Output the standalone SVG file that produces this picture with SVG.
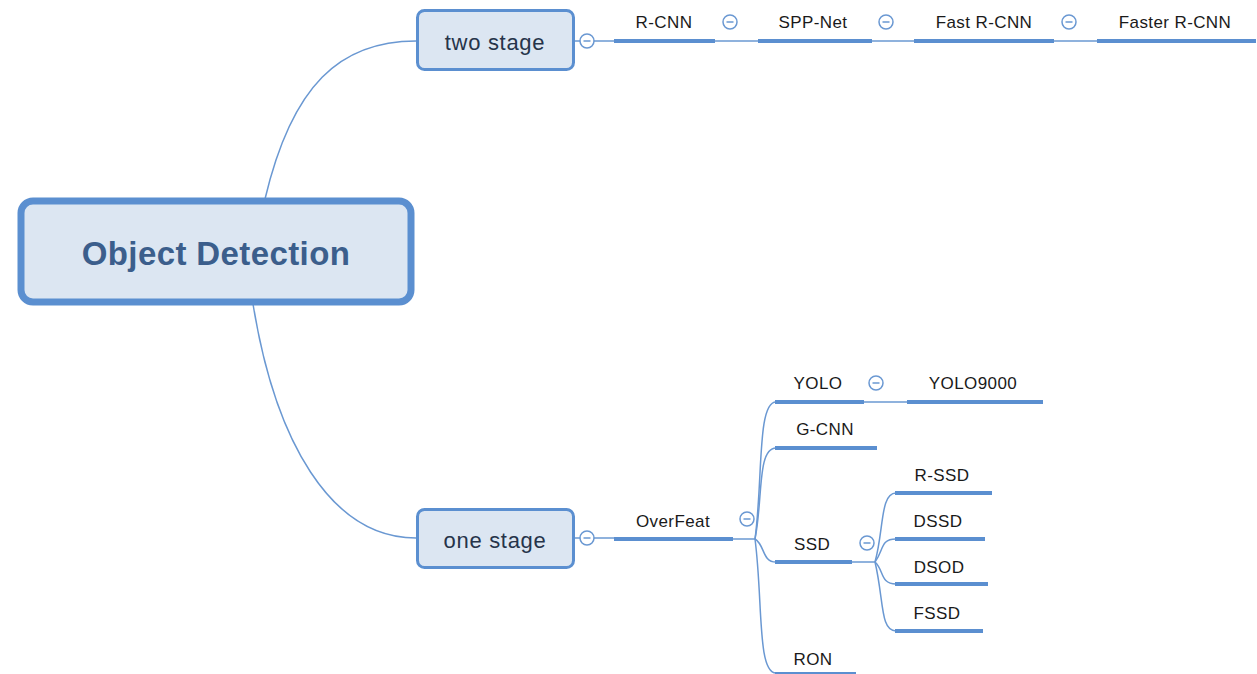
<svg xmlns="http://www.w3.org/2000/svg" width="1257" height="674" viewBox="0 0 1257 674">
<style>
.lbl{font-family:"Liberation Sans",Arial,sans-serif;font-size:17px;fill:#1a1a1a;text-anchor:middle;letter-spacing:0.4px}
.mid{font-family:"Liberation Sans",Arial,sans-serif;font-size:22px;fill:#26344a;text-anchor:middle;letter-spacing:0.7px}
.root{font-family:"Liberation Sans",Arial,sans-serif;font-size:33px;font-weight:bold;fill:#3b5e8c;text-anchor:middle;letter-spacing:0.4px}
.bar{stroke:#5b8fd0;stroke-width:4;fill:none}
.ln{stroke:#6a98d2;stroke-width:1.5;fill:none}
.box{fill:#dce6f2;stroke:#5b8fd0}
.tog{fill:#fff;stroke:#6a98d2;stroke-width:1.5}
.minus{stroke:#6a98d2;stroke-width:1.5}
</style>
<defs>
<g id="toggle"><circle class="tog" r="7"/><line class="minus" x1="-3.5" y1="0" x2="3.5" y2="0"/></g>
</defs>
<rect width="1257" height="674" fill="#fff"/>
<g id="connectors">
<path class="ln" d="M265,199 C292,85 340,41 416,41"/>
<path class="ln" d="M253,304 C275,440 330,538 416,538"/>
<path class="ln" d="M574,41 H614"/>
<path class="ln" d="M715,41 H758"/>
<path class="ln" d="M872,41 H914"/>
<path class="ln" d="M1054,41 H1097"/>
<path class="ln" d="M574,538 H614"/>
<path class="ln" d="M733,539 H755"/>
<path class="ln" d="M755,539 C763,480 757,402 776,402"/>
<path class="ln" d="M755,539 C763,500 757,448 776,448"/>
<path class="ln" d="M755,539 C765,545 762,562 776,562"/>
<path class="ln" d="M755,539 C763,600 757,673 776,673"/>
<path class="ln" d="M864,402 H907"/>
<path class="ln" d="M852,562 H875"/>
<path class="ln" d="M875,562 C884,530 880,493 896,493"/>
<path class="ln" d="M875,562 C884,550 880,539 896,539"/>
<path class="ln" d="M875,562 C884,570 880,584 896,584"/>
<path class="ln" d="M875,562 C884,600 880,631 896,631"/>
</g>
<g id="root">
<rect class="box" x="21" y="201" width="390" height="101" rx="12" stroke-width="7"/>
<text class="root" x="216" y="265">Object Detection</text>
</g>
<g id="two-stage">
<rect class="box" x="417.5" y="10.5" width="156" height="59" rx="7" stroke-width="3"/>
<text class="mid" x="495" y="50">two stage</text>
<use href="#toggle" x="587" y="41"/>
</g>
<g id="one-stage">
<rect class="box" x="417.5" y="509.5" width="156" height="58" rx="7" stroke-width="3"/>
<text class="mid" x="495" y="548">one stage</text>
<use href="#toggle" x="587" y="538"/>
</g>
<g id="rcnn"><text class="lbl" x="664" y="28">R-CNN</text><line class="bar" x1="614" y1="41" x2="715" y2="41"/><use href="#toggle" x="730" y="22"/></g>
<g id="sppnet"><text class="lbl" x="813" y="28">SPP-Net</text><line class="bar" x1="758" y1="41" x2="872" y2="41"/><use href="#toggle" x="886" y="22"/></g>
<g id="fastrcnn"><text class="lbl" x="984" y="28">Fast R-CNN</text><line class="bar" x1="914" y1="41" x2="1054" y2="41"/><use href="#toggle" x="1069" y="22"/></g>
<g id="fasterrcnn"><text class="lbl" x="1175" y="28">Faster R-CNN</text><line class="bar" x1="1097" y1="41" x2="1256" y2="41"/></g>
<g id="overfeat"><text class="lbl" x="673" y="527">OverFeat</text><line class="bar" x1="614" y1="539" x2="733" y2="539"/><use href="#toggle" x="747" y="519"/></g>
<g id="yolo"><text class="lbl" x="818" y="389">YOLO</text><line class="bar" x1="775" y1="402" x2="864" y2="402"/><use href="#toggle" x="876" y="383"/></g>
<g id="yolo9000"><text class="lbl" x="973" y="389">YOLO9000</text><line class="bar" x1="907" y1="402" x2="1043" y2="402"/></g>
<g id="gcnn"><text class="lbl" x="825" y="435">G-CNN</text><line class="bar" x1="775" y1="448" x2="877" y2="448"/></g>
<g id="ssd"><text class="lbl" x="812" y="550">SSD</text><line class="bar" x1="775" y1="562" x2="852" y2="562"/><use href="#toggle" x="867" y="543"/></g>
<g id="rssd"><text class="lbl" x="942" y="481">R-SSD</text><line class="bar" x1="895" y1="493" x2="992" y2="493"/></g>
<g id="dssd"><text class="lbl" x="938" y="527">DSSD</text><line class="bar" x1="895" y1="539" x2="985" y2="539"/></g>
<g id="dsod"><text class="lbl" x="939" y="573">DSOD</text><line class="bar" x1="895" y1="584" x2="988" y2="584"/></g>
<g id="fssd"><text class="lbl" x="937" y="619">FSSD</text><line class="bar" x1="895" y1="631" x2="983" y2="631"/></g>
<g id="ron"><text class="lbl" x="813" y="665">RON</text><line class="bar" x1="775" y1="674" x2="856" y2="674"/></g>
</svg>
